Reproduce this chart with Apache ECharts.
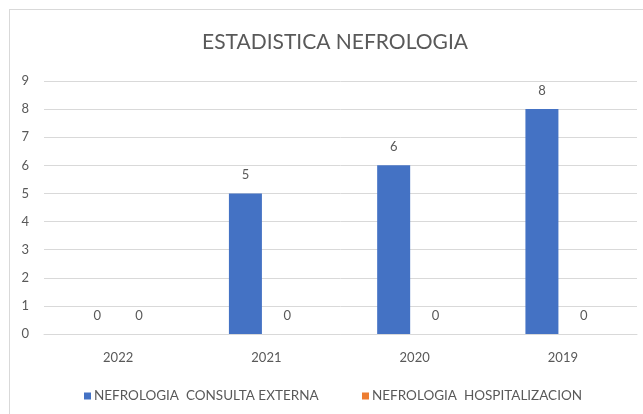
<!DOCTYPE html>
<html>
<head>
<meta charset="utf-8">
<script src="https://cdn.jsdelivr.net/npm/echarts@6/dist/echarts.min.js"></script>
<style>
html,body{margin:0;padding:0;background:#fff;}
#chart{width:643px;height:414px;}
</style>
</head>
<body>
<div id="chart"></div>
<script>
var titleText = 'ESTADISTICA NEFROLOGIA';
var categories = ['2022', '2021', '2020', '2019'];
var seriesNames = ['NEFROLOGIA  CONSULTA EXTERNA', 'NEFROLOGIA  HOSPITALIZACION'];
var consultaExterna = [0, 5, 6, 8];
var hospitalizacion = [0, 0, 0, 0];
var yTicks = { min: 0, max: 9, interval: 1 };

var txt = '#595959';
var fam = 'Lato, "Liberation Sans", sans-serif';
var chart = echarts.init(document.getElementById('chart'));
chart.setOption({
  animation: false,
  backgroundColor: '#fff',
  graphic: [
    { type: 'line', shape: { x1: 9, y1: 9.5, x2: 643, y2: 9.5 }, style: { stroke: '#d9d9d9', lineWidth: 1 } },
    { type: 'line', shape: { x1: 9.5, y1: 9, x2: 9.5, y2: 414 }, style: { stroke: '#d9d9d9', lineWidth: 1 } }
  ],
  title: {
    text: titleText, left: 202, top: 32, padding: 0,
    textStyle: { color: txt, fontSize: 21, fontWeight: 'normal', fontFamily: fam }
  },
  legend: [
    { data: [seriesNames[0]], left: 84, top: 389, padding: 0, itemWidth: 7, itemHeight: 7, icon: 'rect',
      textStyle: { color: txt, fontSize: 13.5, fontFamily: fam, padding: [0, 0, 0, -2] } },
    { data: [seriesNames[1]], left: 362, top: 389, padding: 0, itemWidth: 7, itemHeight: 7, icon: 'rect',
      textStyle: { color: txt, fontSize: 13.5, fontFamily: fam, padding: [0, 0, 0, -2] } }
  ],
  grid: { left: 44, right: 6, top: 81, bottom: 80, containLabel: false },
  xAxis: {
    type: 'category', data: categories,
    axisLine: { lineStyle: { color: '#d9d9d9' } },
    axisTick: { show: false },
    axisLabel: { color: txt, fontSize: 13, fontFamily: fam, margin: 17 }
  },
  yAxis: {
    type: 'value', min: yTicks.min, max: yTicks.max, interval: yTicks.interval,
    axisLine: { show: false }, axisTick: { show: false },
    splitLine: { lineStyle: { color: '#d9d9d9' } },
    axisLabel: { color: txt, fontSize: 13, fontFamily: fam, margin: 15 }
  },
  series: [
    { name: seriesNames[0], type: 'bar', data: consultaExterna, barWidth: 33, barGap: '27%',
      itemStyle: { color: '#4472C4' },
      label: { show: true, position: 'top', distance: 12, color: txt, fontSize: 13, fontFamily: fam } },
    { name: seriesNames[1], type: 'bar', data: hospitalizacion, barWidth: 33,
      itemStyle: { color: '#ED7D31' },
      label: { show: true, position: 'top', distance: 12, color: txt, fontSize: 13, fontFamily: fam } }
  ]
});
</script>
</body>
</html>
